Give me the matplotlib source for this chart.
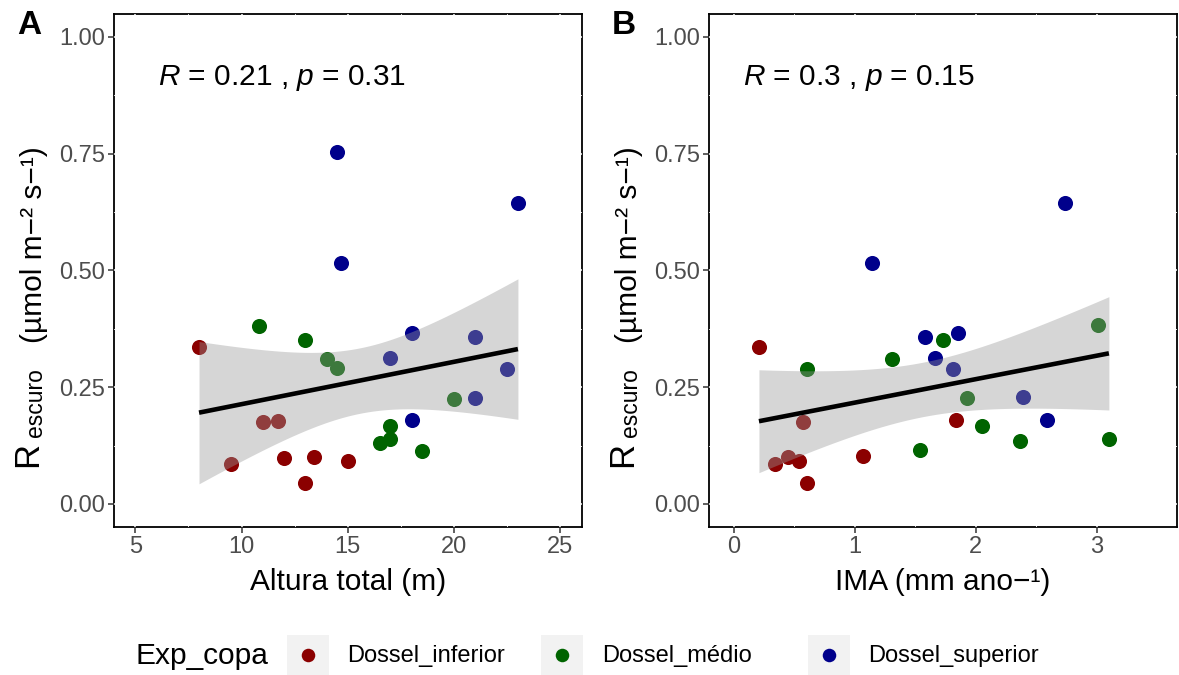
import math
import numpy as np
import matplotlib
matplotlib.use("Agg")
import matplotlib.pyplot as plt
from matplotlib.patches import Rectangle

plt.rcParams['font.family'] = ['Liberation Sans', 'DejaVu Sans']
plt.rcParams['mathtext.fontset'] = 'custom'
plt.rcParams['mathtext.rm'] = 'Liberation Sans'
plt.rcParams['mathtext.it'] = 'Liberation Sans:italic'

# ---------------- data ----------------
groups = ["Dossel_inferior", "Dossel_médio", "Dossel_superior"]
group_colors = ["#8B0000", "#006400", "#00008B"]

# Panel A: Altura total (m) vs Rescuro
altura_inferior = [8.0, 9.5, 11.0, 11.7, 12.0, 13.0, 13.4, 15.0]
resc_a_inferior = [0.335, 0.086, 0.176, 0.178, 0.099, 0.045, 0.101, 0.092]
altura_medio = [10.8, 13.0, 14.0, 14.5, 20.0, 16.5, 17.0, 17.0, 18.5]
resc_a_medio = [0.382, 0.350, 0.311, 0.290, 0.225, 0.131, 0.167, 0.139, 0.114]
altura_superior = [14.5, 14.7, 23.0, 18.0, 17.0, 21.0, 22.5, 21.0, 18.0]
resc_a_superior = [0.753, 0.515, 0.644, 0.367, 0.313, 0.358, 0.288, 0.227, 0.180]

# Panel B: IMA (mm ano-1) vs Rescuro
ima_inferior = [0.21, 0.34, 0.45, 0.54, 0.57, 0.61, 1.07, 1.84]
resc_b_inferior = [0.337, 0.085, 0.101, 0.092, 0.176, 0.045, 0.102, 0.180]
ima_medio = [0.61, 1.31, 1.73, 3.01, 1.93, 2.05, 2.37, 3.10, 1.54]
resc_b_medio = [0.289, 0.311, 0.350, 0.383, 0.226, 0.167, 0.134, 0.140, 0.116]
ima_superior = [2.74, 1.14, 1.58, 1.85, 1.66, 1.81, 2.39, 2.59]
resc_b_superior = [0.644, 0.516, 0.358, 0.366, 0.313, 0.288, 0.228, 0.180]

r_values = ["0.21", "0.3"]
p_values = ["0.31", "0.15"]
panel_letters = ["A", "B"]
x_titles = ["Altura total (m)", "IMA (mm ano\u2212\u00b9)"]
xticks_a = [5, 10, 15, 20, 25]
xticks_b = [0, 1, 2, 3]
yticks = [0.00, 0.25, 0.50, 0.75, 1.00]
ytick_labels = ["0.00", "0.25", "0.50", "0.75", "1.00"]
legend_title = "Exp_copa"

W, H = 1179, 675
fig = plt.figure(figsize=(W / 100, H / 100), dpi=100)


def t975(df):
    grid = np.linspace(0, 6, 60001)
    c = math.gamma((df + 1) / 2) / (math.sqrt(df * math.pi) * math.gamma(df / 2))
    vals = c * np.power(1 + grid ** 2 / df, -(df + 1) / 2)
    cdf = np.concatenate([[0.0], np.cumsum((vals[1:] + vals[:-1]) / 2 * np.diff(grid))])
    return float(np.interp(0.475, cdf, grid))


def px_axes(x0, x1, y0, y1):
    return fig.add_axes([x0 / W, 1 - y1 / H, (x1 - x0) / W, (y1 - y0) / H])


def draw_panel(ax, xs_list, ys_list, xlim, xticks, xtitle, rv, pv, stat_x):
    for xs, ys, c in zip(xs_list, ys_list, group_colors):
        ax.scatter(xs, ys, s=118, color=c, linewidths=0, zorder=2)
    x = np.concatenate([np.asarray(v, float) for v in xs_list])
    y = np.concatenate([np.asarray(v, float) for v in ys_list])
    n = len(x)
    b1, b0 = np.polyfit(x, y, 1)
    resid = y - (b0 + b1 * x)
    s = math.sqrt(np.sum(resid ** 2) / (n - 2))
    xbar = x.mean()
    sxx = np.sum((x - xbar) ** 2)
    xg = np.linspace(x.min(), x.max(), 200)
    yhat = b0 + b1 * xg
    se = s * np.sqrt(1 / n + (xg - xbar) ** 2 / sxx)
    t = t975(n - 2)
    ax.fill_between(xg, yhat - t * se, yhat + t * se, color="#999999", alpha=0.4,
                    linewidth=0, zorder=3)
    ax.plot(xg, yhat, color="black", lw=3.3, zorder=4, solid_capstyle="butt")

    ax.set_xlim(*xlim)
    ax.set_ylim(-0.05, 1.05)
    ax.set_xticks(xticks)
    ax.set_xticklabels([str(v) for v in xticks])
    ax.set_yticks(yticks)
    ax.set_yticklabels(ytick_labels)
    mx = [(a + b) / 2 for a, b in zip(xticks[:-1], xticks[1:])]
    ax.set_xticks(mx, minor=True)
    ax.set_yticks([0.125, 0.375, 0.625, 0.875], minor=True)
    ax.tick_params(which="major", direction="out", length=4, width=1.1,
                   color="#333333", labelcolor="#4D4D4D", labelsize=17, pad=2.5)
    ax.tick_params(which="minor", length=0)
    ax.set_axisbelow(True)
    ax.grid(which="major", color="white", lw=1.1)
    ax.grid(which="minor", color="white", lw=0.6)
    for sp in ax.spines.values():
        sp.set_color("black")
        sp.set_linewidth(1.3)
        sp.set_zorder(0.4)
    ax.set_xlabel(xtitle, fontsize=21.5, color="black", labelpad=7)
    ax.text(stat_x, (527.3 - 78) / (527.3 - 13.5),
            f"$\\it{{R}}$ = {rv} , $\\it{{p}}$ = {pv}", transform=ax.transAxes,
            fontsize=21.5, va="center", ha="left", zorder=5)


axA = px_axes(114, 581.7, 13.5, 527.3)
axB = px_axes(709.3, 1176.7, 13.5, 527.3)

draw_panel(axA, [altura_inferior, altura_medio, altura_superior],
           [resc_a_inferior, resc_a_medio, resc_a_superior],
           (4, 26), xticks_a, x_titles[0], r_values[0], p_values[0],
           (158 - 114) / (581.7 - 114))
draw_panel(axB, [ima_inferior, ima_medio, ima_superior],
           [resc_b_inferior, resc_b_medio, resc_b_superior],
           (-0.2, 3.66), xticks_b, x_titles[1], r_values[1], p_values[1],
           (743 - 709.3) / (1176.7 - 709.3))

# overlay axes in pixel coordinates for labels / legend
ov = fig.add_axes([0, 0, 1, 1], zorder=10)
ov.set_xlim(0, W)
ov.set_ylim(H, 0)
ov.axis("off")
ov.patch.set_alpha(0)

for dx, letter in [(0, panel_letters[0]), (595.3, panel_letters[1])]:
    ov.text(29 + dx, 25.5, letter, fontsize=24, fontweight="bold", ha="center", va="center")
    ov.text(37 + dx, 467, "R", fontsize=25, rotation=90, rotation_mode="anchor",
            ha="left", va="baseline")
    ov.text(42 + dx, 437, "escuro", fontsize=16.5, rotation=90, rotation_mode="anchor",
            ha="left", va="baseline")
    ov.text(42 + dx, 343, "(\u00b5mol m\u2212\u00b2 s\u2212\u00b9)", fontsize=21.5, rotation=90,
            rotation_mode="anchor", ha="left", va="baseline")

# legend
ov.text(135, 656, legend_title, fontsize=21.5, ha="left", va="center")
key_x = [287, 541, 808]
text_x = [347, 602, 868]
for kx, tx, g, c in zip(key_x, text_x, groups, group_colors):
    ov.add_patch(Rectangle((kx, 635), 42, 40, facecolor="#F2F2F2", edgecolor="none"))
    ov.scatter([kx + 21], [655], s=95, color=c, linewidths=0, zorder=3)
    ov.text(tx, 656, g, fontsize=17, ha="left", va="center", color="black")

fig.savefig("out.png", dpi=100)
